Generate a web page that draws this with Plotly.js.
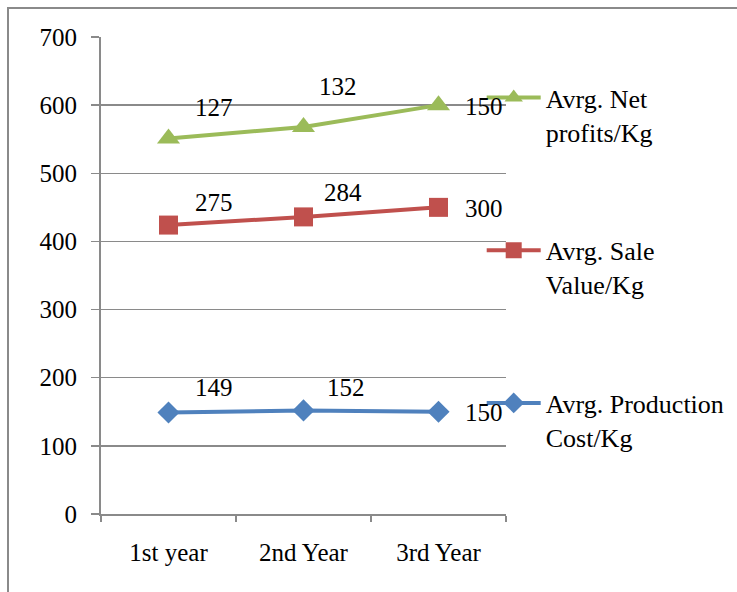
<!DOCTYPE html>
<html>
<head>
<meta charset="utf-8">
<script src="https://cdn.plot.ly/plotly-3.0.1.min.js"></script>
<style>
  html, body { margin: 0; padding: 0; background: #fff; }
  #wrap { position: relative; width: 737px; height: 592px; overflow: hidden; }
  #chart { position: absolute; left: 0; top: 0; width: 737px; height: 592px; }
  #frame { position: absolute; left: 7px; top: 7px; width: 760px; height: 620px;
           border-left: 2px solid #8a8a8a; border-top: 2px solid #8a8a8a; pointer-events: none; }
</style>
</head>
<body>
<div id="wrap">
  <div id="chart"></div>
  <div id="frame"></div>
</div>
<script>
// Categories and per-kg values (series are stacked on top of each other)
const years = ["1st year", "2nd Year", "3rd Year"];
const productionCost = [149, 152, 150];
const saleValue = [275, 284, 300];
const netProfits = [127, 132, 150];

const seriesNames = ["Avrg. Production<br>Cost/Kg", "Avrg. Sale<br>Value/Kg", "Avrg. Net<br>profits/Kg"];
const yTicks = [0, 100, 200, 300, 400, 500, 600, 700];

// Label placement (pixel offsets from each point)
const labelShiftX = [[45, 42, 45], [45, 39, 45], [45, 34, 45]];
const labelShiftY = [[25, 23, -1], [23, 24, -1], [31, 40, -1]];

const colors = ["#4F81BD", "#C0504D", "#9BBB59"];
const symbols = ["diamond", "square", "triangle-up"];
const markerSizes = [17, 19, 20];
const series = [productionCost, saleValue, netProfits];
const legends = ["legend3", "legend2", "legend"];

const font = "Liberation Serif";
const fontSize = 25;
const legendFontSize = 26;

const traces = series.map((vals, i) => ({
  type: "scatter",
  mode: "lines+markers",
  x: years,
  y: vals,
  name: seriesNames[i],
  stackgroup: "one",
  fill: "none",
  line: { color: colors[i], width: 4 },
  marker: { symbol: symbols[i], size: markerSizes[i], color: colors[i] },
  legend: legends[i],
  hoverinfo: "skip"
}));

// Data labels at the stacked position, showing the series' own value
const annotations = [];
series.forEach((vals, i) => {
  vals.forEach((v, j) => {
    let cum = 0;
    for (let k = 0; k <= i; k++) cum += series[k][j];
    annotations.push({
      x: years[j], y: cum, xref: "x", yref: "y",
      text: String(v), showarrow: false,
      xshift: labelShiftX[i][j], yshift: labelShiftY[i][j],
      font: { family: font, size: fontSize, color: "#000" }
    });
  });
});

const legendBase = {
  xref: "paper", yref: "paper",
  xanchor: "left", yanchor: "top",
  bgcolor: "rgba(0,0,0,0)",
  font: { family: font, size: legendFontSize, color: "#000" },
  itemwidth: 54,
  valign: "top",
  itemclick: false
};

const layout = {
  width: 737, height: 592,
  margin: { l: 101, r: 231, t: 37, b: 78, autoexpand: false },
  paper_bgcolor: "#fff", plot_bgcolor: "#fff",
  font: { family: font, size: fontSize, color: "#000" },
  showlegend: true,
  legend: Object.assign({}, legendBase, { x: 0.94, y: 0.922 }),
  legend2: Object.assign({}, legendBase, { x: 0.94, y: 0.602 }),
  legend3: Object.assign({}, legendBase, { x: 0.94, y: 0.282 }),
  xaxis: {
    type: "category",
    range: [-0.5, 2.5],
    tickson: "boundaries",
    ticks: "outside", ticklen: 6, tickwidth: 1.5, tickcolor: "#8a8a8a",
    showline: true, linecolor: "#8a8a8a", linewidth: 2,
    showgrid: false, zeroline: false,
    ticklabelstandoff: 15,
    tickfont: { family: font, size: fontSize, color: "#000" },
    fixedrange: true
  },
  yaxis: {
    range: [0, 700],
    tickmode: "array", tickvals: yTicks, ticktext: yTicks.map(String),
    ticks: "outside", ticklen: 8, tickwidth: 1.5, tickcolor: "#8a8a8a",
    showline: true, linecolor: "#8a8a8a", linewidth: 2,
    showgrid: true, gridcolor: "#8a8a8a", gridwidth: 1.5,
    zeroline: false,
    ticklabelstandoff: 9,
    tickfont: { family: font, size: fontSize, color: "#000" },
    fixedrange: true
  },
  annotations: annotations
};

Plotly.newPlot("chart", traces, layout, { displayModeBar: false, staticPlot: true });
</script>
</body>
</html>
